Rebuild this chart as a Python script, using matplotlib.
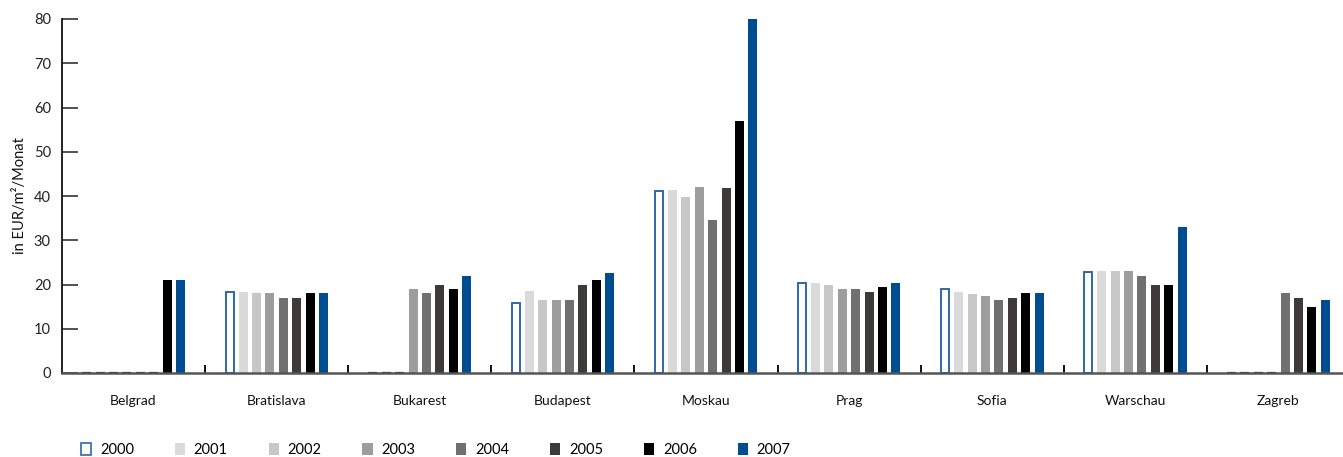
import matplotlib
matplotlib.use("Agg")
import matplotlib.pyplot as plt
from matplotlib.patches import Rectangle
import numpy as np

cities = ["Belgrad", "Bratislava", "Bukarest", "Budapest", "Moskau",
          "Prag", "Sofia", "Warschau", "Zagreb"]
years = ["2000", "2001", "2002", "2003", "2004", "2005", "2006", "2007"]

# rent per city, one list per year (0 = no data)
rent_2000 = [0, 18.4, 0, 15.9, 41.2, 20.3, 18.9, 22.9, 0]
rent_2001 = [0, 18.3, 0, 18.5, 41.4, 20.3, 18.3, 23.0, 0]
rent_2002 = [0, 18.0, 0, 16.5, 39.8, 19.9, 17.9, 23.0, 0]
rent_2003 = [0, 18.0, 19.0, 16.5, 42.0, 19.0, 17.4, 23.0, 0]
rent_2004 = [0, 17.0, 18.0, 16.5, 34.6, 19.0, 16.5, 22.0, 18.0]
rent_2005 = [0, 17.0, 20.0, 20.0, 41.8, 18.3, 17.0, 20.0, 17.0]
rent_2006 = [21.0, 18.0, 19.0, 21.0, 57.0, 19.4, 18.0, 20.0, 15.0]
rent_2007 = [21.0, 18.0, 22.0, 22.5, 80.0, 20.4, 18.0, 33.0, 16.5]

series = [rent_2000, rent_2001, rent_2002, rent_2003,
          rent_2004, rent_2005, rent_2006, rent_2007]
fills = ["white", "#d9dad9", "#c6c7c6", "#9d9d9d",
         "#707070", "#3c3b3a", "#000000", "#004c91"]
outline_2000 = "#2e68a6"

W, H = 1343, 457
fig = plt.figure(figsize=(W / 100, H / 100), dpi=100)
plt.rcParams["font.family"] = ["Lato", "DejaVu Sans"]

x0, x1 = 62, 1343
y0, y1 = 373, 19
ax = fig.add_axes([x0 / W, 1 - y0 / H, (x1 - x0) / W, (y0 - y1) / H])

group_px = 143.1
x = np.arange(len(cities))
pitch = 13.4 / group_px
width = 9.0 / group_px

for j, (vals, col) in enumerate(zip(series, fills)):
    pos = x + (j - 3.5) * pitch
    for p, v in zip(pos, vals):
        if v == 0:
            ax.bar(p, 0, width=width, bottom=0, color="#333333",
                   edgecolor="#2a2a2a", linewidth=1.6, zorder=3)
        elif j == 0:
            ax.bar(p, v, width=width * 0.9, color="white",
                   edgecolor=outline_2000, linewidth=1.4, zorder=3)
        else:
            ax.bar(p, v, width=width, color=col, linewidth=0, zorder=3)

ax.set_xlim(-0.5, (x1 - x0) / group_px - 0.5)
ax.set_ylim(0, 80)

for s in ["top", "right"]:
    ax.spines[s].set_visible(False)
ax.spines["left"].set_color("#111111")
ax.spines["left"].set_linewidth(1.3)
ax.spines["bottom"].set_color("#555555")
ax.spines["bottom"].set_linewidth(1.8)
ax.spines["bottom"].set_zorder(4)

ax.set_yticks(np.arange(0, 81, 10))
ax.tick_params(axis="y", direction="in", length=11.5, width=1.1,
               color="#222222", labelsize=10.5, pad=8, labelcolor="#222222")

# boundary ticks between city groups, labels at group centres
ax.set_xticks(np.arange(0.5, len(cities) - 0.5, 1.0))
ax.set_xticklabels([])
ax.tick_params(axis="x", which="major", direction="in", length=6,
               width=1.4, color="#111111")
ax.set_xticks(x, minor=True)
ax.set_xticklabels(cities, minor=True, fontsize=10, color="#111111")
ax.tick_params(axis="x", which="minor", length=0, pad=16)

ax.set_ylabel("in EUR/m²/Monat", fontsize=10.5, color="#111111", labelpad=5)

handles = []
for j, col in enumerate(fills):
    if j == 0:
        handles.append(Rectangle((0, 0), 1, 1, facecolor="white",
                                 edgecolor=outline_2000, linewidth=1.2))
    else:
        handles.append(Rectangle((0, 0), 1, 1, facecolor=col, linewidth=0))

fig.legend(handles, years, loc="center left", bbox_to_anchor=(81 / W, 1 - 450 / H),
           ncol=8, frameon=False, fontsize=10.5, handlelength=0.7,
           handleheight=0.95, handletextpad=0.6, columnspacing=2.8,
           borderaxespad=0, borderpad=0)

fig.savefig("out.png", dpi=100)
